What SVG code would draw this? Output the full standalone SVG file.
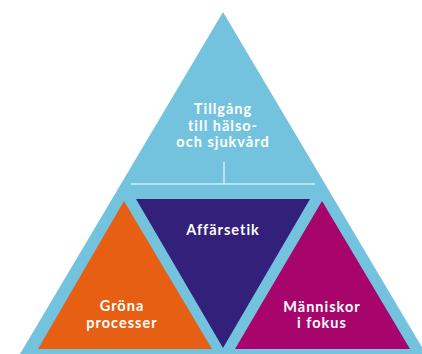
<svg xmlns="http://www.w3.org/2000/svg" width="422" height="354" viewBox="0 0 422 354">
<style>
.t{font-family:Lato,"Noto Sans",sans-serif;font-weight:bold;fill:#ffffff;text-anchor:middle;letter-spacing:1px;font-size:14.5px}
.c{stroke:#ffffff;stroke-width:1;fill:none}
</style>
<rect width="422" height="354" fill="#ffffff"/>
<g id="outer">
<polygon points="223,12 20,354 426,354" fill="#74C3DE"/>
<text class="t" x="223" y="114">Tillgång</text>
<text class="t" x="223" y="130.5">till hälso-</text>
<text class="t" x="223" y="147">och sjukvård</text>
</g>
<g id="connectors">
<line class="c" x1="131" y1="184" x2="315" y2="184"/>
<line class="c" x1="224" y1="162" x2="224" y2="184"/>
</g>
<g id="grona">
<polygon points="124,201 38,349 212,349" fill="#E65F12"/>
<text class="t" x="122" y="311">Gröna</text>
<text class="t" x="122" y="327.5">processer</text>
</g>
<g id="affarsetik">
<polygon points="136,199 310,199 223,348" fill="#32207A"/>
<text class="t" x="223" y="235">Affärsetik</text>
</g>
<g id="manniskor">
<polygon points="322,201 235,349 410,349" fill="#A7056B"/>
<text class="t" x="322" y="311.5">Människor</text>
<text class="t" x="322" y="328">i fokus</text>
</g>
</svg>
